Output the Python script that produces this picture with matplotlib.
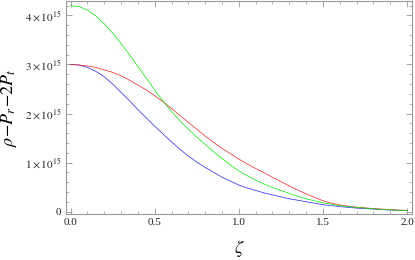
import matplotlib
matplotlib.use("Agg")
import matplotlib.pyplot as plt
from matplotlib.ticker import MultipleLocator, FixedLocator

plt.rcParams['font.family'] = ['Liberation Serif', 'DejaVu Serif']
plt.rcParams['mathtext.fontset'] = 'stix'

zeta = [0.0, 0.05, 0.1, 0.15, 0.2, 0.25, 0.3, 0.35, 0.4, 0.45, 0.5,
        0.55, 0.6, 0.65, 0.7, 0.75, 0.8, 0.85, 0.9, 0.95, 1.0,
        1.05, 1.1, 1.15, 1.2, 1.25, 1.3, 1.35, 1.4, 1.45, 1.5,
        1.55, 1.6, 1.65, 1.7, 1.75, 1.8, 1.85, 1.9, 1.95, 2.0]
# values in units of 1e15
blue = [3.00, 2.99, 2.94, 2.86, 2.75, 2.60, 2.43, 2.26, 2.08, 1.91, 1.74,
        1.58, 1.42, 1.27, 1.13, 1.01, 0.90, 0.80, 0.70, 0.62, 0.54,
        0.48, 0.43, 0.38, 0.34, 0.30, 0.26, 0.23, 0.20, 0.17, 0.14,
        0.12, 0.10, 0.085, 0.07, 0.06, 0.05, 0.04, 0.03, 0.025, 0.02]
red = [3.00, 2.99, 2.97, 2.94, 2.89, 2.84, 2.77, 2.68, 2.58, 2.48, 2.36,
       2.24, 2.10, 1.96, 1.82, 1.68, 1.54, 1.41, 1.29, 1.18, 1.07,
       0.97, 0.88, 0.79, 0.70, 0.61, 0.52, 0.44, 0.36, 0.29, 0.22,
       0.17, 0.135, 0.11, 0.09, 0.075, 0.06, 0.05, 0.04, 0.03, 0.025]
green = [4.20, 4.18, 4.11, 3.99, 3.83, 3.64, 3.43, 3.20, 2.96, 2.72, 2.48,
         2.25, 2.04, 1.85, 1.68, 1.52, 1.37, 1.22, 1.08, 0.95, 0.83,
         0.73, 0.64, 0.56, 0.49, 0.43, 0.37, 0.31, 0.26, 0.22, 0.18,
         0.15, 0.12, 0.10, 0.085, 0.07, 0.055, 0.045, 0.035, 0.027, 0.02]

ytick_vals = [0, 1, 2, 3, 4]
ytick_labels = ['0', r'$1\times10^{15}$', r'$2\times10^{15}$', r'$3\times10^{15}$', r'$4\times10^{15}$']
xtick_vals = [0.0, 0.5, 1.0, 1.5, 2.0]
xtick_labels = ['0.0', '0.5', '1.0', '1.5', '2.0']

fig = plt.figure(figsize=(4.15, 2.6), dpi=100)
ax = fig.add_axes([0.158, 0.177, 0.835, 0.82])

ax.plot(zeta, blue, color='#2222ff', lw=0.5)
ax.plot(zeta, red, color='#ff2222', lw=0.5)
ax.plot(zeta, green, color='#00ee00', lw=0.5)

ax.set_xlim(-0.03, 2.03)
ax.set_ylim(-0.05, 4.3)

ax.xaxis.set_major_locator(FixedLocator(xtick_vals))
ax.set_xticklabels(xtick_labels)
ax.yaxis.set_major_locator(FixedLocator(ytick_vals))
ax.set_yticklabels(ytick_labels)
ax.xaxis.set_minor_locator(MultipleLocator(0.1))
ax.yaxis.set_minor_locator(MultipleLocator(0.2))

fc = '#999999'
for s in ax.spines.values():
    s.set_color(fc)
    s.set_linewidth(0.8)
ax.tick_params(which='both', direction='in', top=True, right=True, color=fc,
               labelsize=8, labelcolor='#222222', pad=3)
ax.tick_params(which='major', length=4, width=0.6)
ax.tick_params(which='minor', length=2, width=0.5)

ax.set_xlabel(r'$\zeta$', fontsize=13, labelpad=8)
ax.set_ylabel(r'$\rho\!-\!P_r\!-\!2P_t$', fontsize=13, labelpad=4)

fig.savefig('out.png', dpi=100)
